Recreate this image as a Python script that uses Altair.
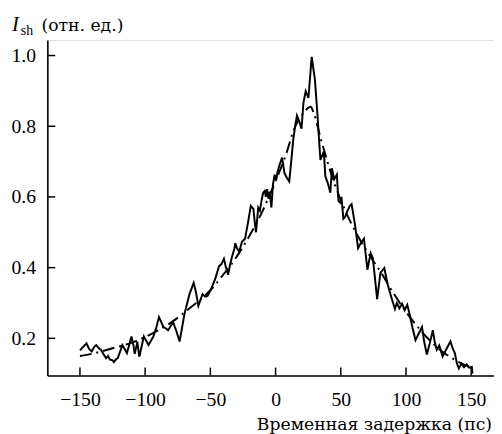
import altair as alt
import pandas as pd

# Measured (noisy) signal
noisy_x = [-150, -147, -145, -143, -141, -139, -137.5, -135.5, -134, -132, -130, -128.5, -127, -125, -124,
           -122.5, -121, -119, -117.5, -116, -114, -112, -110.5, -109, -108, -106, -104.5, -101, -97.4, -93.7,
           -91.5, -89.4, -86, -84, -82.4, -78.6, -76, -73.6, -69.8, -66, -62.8, -61, -59.2, -57.5, -56, -54,
           -52.2, -50, -48.5, -46, -43.4, -41.5, -39.6, -38, -36.4, -34.8, -33.4, -31.5, -30.9, -29.6, -27.9,
           -25.8, -23.4, -21, -19, -17, -16, -15, -13.3, -12, -10.5, -9.5, -8.3, -7.5, -6.5, -5.5, -4.5, -3.2,
           -2, -0.7, 0.5, 1.5, 3, 5, 6.8, 8.5, 10.5, 12, 13.5, 15, 16.4, 18, 19.9, 21.4, 23.1, 25.2, 27.7,
           30.2, 32, 33.2, 34.4, 37, 38.2, 40, 42, 43.2, 45, 47, 48.2, 49.5, 50.5, 52, 53.3, 55, 57, 58.3,
           60.8, 63.3, 65.5, 67.8, 70.4, 72.9, 74.6, 77.9, 80.4, 83.4, 85.9, 88.5, 91.5, 93, 95, 97, 99, 101,
           103, 105, 107.3, 110, 112.3, 114, 116, 118.5, 120.6, 122, 123.6, 125.5, 128.1, 131, 134.1, 136,
           137.5, 139, 140.5, 142.5, 144.5, 146.5, 148.5, 150.5, 151]
noisy_y = [0.166, 0.178, 0.186, 0.170, 0.163, 0.176, 0.181, 0.172, 0.168, 0.156, 0.144, 0.150, 0.140, 0.138, 0.133,
           0.140, 0.144, 0.165, 0.181, 0.172, 0.158, 0.185, 0.205, 0.180, 0.156, 0.190, 0.148, 0.205, 0.181, 0.205,
           0.230, 0.260, 0.232, 0.228, 0.223, 0.246, 0.220, 0.191, 0.270, 0.325, 0.357, 0.330, 0.292, 0.310, 0.325, 0.318,
           0.320, 0.335, 0.348, 0.371, 0.404, 0.410, 0.425, 0.400, 0.380, 0.410, 0.431, 0.455, 0.469, 0.455, 0.445,
           0.473, 0.482, 0.530, 0.575, 0.566, 0.530, 0.500, 0.570, 0.561, 0.595, 0.612, 0.617, 0.600, 0.622, 0.595, 0.615, 0.570,
           0.635, 0.663, 0.648, 0.670, 0.690, 0.711, 0.668, 0.655, 0.644, 0.700, 0.760, 0.800, 0.830, 0.815, 0.793, 0.867, 0.899, 0.880, 0.996,
           0.931, 0.839, 0.770, 0.705, 0.728, 0.658, 0.640, 0.612, 0.681, 0.650, 0.663, 0.589, 0.584, 0.600, 0.538, 0.543, 0.560, 0.575, 0.580,
           0.524, 0.455, 0.470, 0.482, 0.394, 0.441, 0.427, 0.311, 0.385, 0.399, 0.353, 0.320, 0.283, 0.300, 0.285, 0.298, 0.280, 0.295,
           0.265, 0.230, 0.195, 0.215, 0.232, 0.190, 0.154, 0.190, 0.223, 0.190, 0.168, 0.180, 0.149, 0.170, 0.191, 0.170,
           0.158, 0.130, 0.115, 0.128, 0.118, 0.126, 0.117, 0.119, 0.100]

# Fitted (dash-dot) curve
fit_x = [-150, -140, -125, -110, -94, -80, -65, -50, -41, -30, -20, -10, 0, 8, 14, 20, 27,
         29, 35, 45, 53, 63, 72, 81, 90, 103, 113, 126, 138, 150]
fit_y = [0.150, 0.157, 0.172, 0.188, 0.215, 0.245, 0.288, 0.336, 0.376, 0.430, 0.490, 0.560, 0.645, 0.720, 0.790, 0.830, 0.855,
         0.840, 0.760, 0.640, 0.565, 0.490, 0.435, 0.385, 0.330, 0.260, 0.215, 0.168, 0.138, 0.117]

x_ticks = [-150, -100, -50, 0, 50, 100, 150]
y_ticks = [0.2, 0.4, 0.6, 0.8, 1.0]

FONT = "Liberation Serif"
CYR_FONT = "DejaVu Serif"
W, H = 454, 341

xs = alt.Scale(domain=[-175, 167.5], nice=False, zero=False)
ys = alt.Scale(domain=[0.095, 1.044], nice=False, zero=False)

noisy = pd.DataFrame({"x": noisy_x, "y": noisy_y})
fit = pd.DataFrame({"x": fit_x, "y": fit_y})

x_axis = alt.Axis(values=x_ticks, title=None, format="d", labelPadding=15)
y_axis = alt.Axis(values=y_ticks, title=None, format=".1f", labelPadding=12)

noisy_line = alt.Chart(noisy).mark_line(color="black", strokeWidth=2, strokeJoin="miter").encode(
    x=alt.X("x:Q", scale=xs, axis=x_axis),
    y=alt.Y("y:Q", scale=ys, axis=y_axis),
    order="x:Q",
)

fit_line = alt.Chart(fit).mark_line(color="black", strokeWidth=2, strokeDash=[12, 5, 2, 5], interpolate="monotone").encode(
    x=alt.X("x:Q", scale=xs, axis=x_axis),
    y=alt.Y("y:Q", scale=ys, axis=y_axis),
    order="x:Q",
)

yt = alt.Chart(pd.DataFrame({"y": y_ticks})).mark_rule(color="black", strokeWidth=1.5).encode(
    y=alt.Y("y:Q", scale=ys, axis=y_axis), x=alt.value(0), x2=alt.value(8))
xt = alt.Chart(pd.DataFrame({"x": x_ticks})).mark_rule(color="black", strokeWidth=1.5).encode(
    x=alt.X("x:Q", scale=xs, axis=x_axis), y=alt.value(H), y2=alt.value(H - 8))

def label(text, px, py, size=21, style="normal", align="left", font=FONT):
    return alt.Chart(pd.DataFrame({"t": [text]})).mark_text(
        font=font, fontSize=size, fontStyle=style, align=align, baseline="alphabetic", color="black"
    ).encode(text="t:N", x=alt.value(px), y=alt.value(py))

t1 = label("I", -36, -9, size=21, style="italic")
t2 = label("sh", -27, -5, size=14)
t3 = label("(отн. ед.)", -6, -9, size=17.5, font=CYR_FONT)
t4 = label("Временная задержка (пс)", 452, 396, size=17.5, align="right", font=CYR_FONT)

chart = alt.layer(noisy_line, fit_line, yt, xt, t1, t2, t3, t4).properties(
    width=W, height=H,
    autosize=alt.AutoSizeParams(type="none"),
    padding={"left": 40, "top": 29, "right": 0, "bottom": 56},
).configure_view(stroke=None).configure(background="white").configure_axis(
    grid=False, ticks=False, domainColor="black", domainWidth=1.6,
    labelFont=FONT, labelFontSize=20, labelColor="black",
)

chart.save("out.html", embed_options={"renderer": "svg", "actions": False})
